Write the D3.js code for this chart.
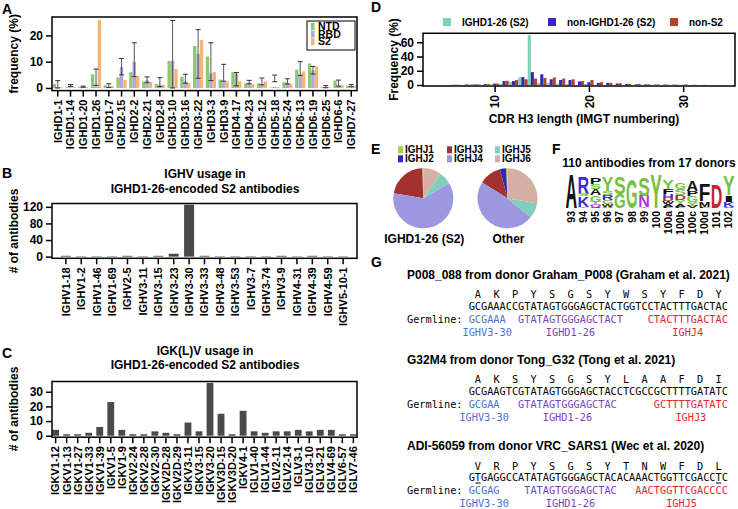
<!DOCTYPE html>
<html><head><meta charset="utf-8">
<script src="https://cdn.jsdelivr.net/npm/d3@7/dist/d3.min.js"></script>
<style>
html,body{margin:0;padding:0;background:#fff;}
svg{display:block;}
</style></head>
<body><svg id="fig" width="738" height="509"></svg>
<script>
// ---------------- DATA ----------------
// Panel A
const dGenes = ["IGHD1-1","IGHD1-14","IGHD1-20","IGHD1-26","IGHD1-7","IGHD2-15","IGHD2-2","IGHD2-21","IGHD2-8","IGHD3-10","IGHD3-16","IGHD3-22","IGHD3-3","IGHD3-9","IGHD4-17","IGHD4-23","IGHD5-12","IGHD5-18","IGHD5-24","IGHD6-13","IGHD6-19","IGHD6-25","IGHD6-6","IGHD7-27"];
const ntdFreq = [1.5,0.3,0.5,5.2,1.0,4.0,6.0,2.5,1.5,10.3,4.3,16.0,12.0,3.2,6.0,1.8,1.8,0.2,2.2,7.0,9.3,0.3,2.8,0.8];
const rbdFreq = [0.3,0.3,0.5,1.0,0.5,8.0,10.0,3.0,1.2,10.3,2.5,13.0,5.5,2.5,5.5,2.0,1.5,0.4,2.0,5.0,6.7,0.3,0.8,0.8];
const s2Freq  = [0.3,0.5,0.3,25.8,0.8,3.0,4.5,2.3,1.2,7.2,2.0,18.2,6.0,2.5,2.5,1.5,2.5,0.3,1.5,6.3,8.1,0.3,1.1,0.8];
const errLow  = [0,0.6,0.3,1.0,0.2,5.0,4.3,2.0,0.5,0,1.8,3.7,2.8,2.6,0.8,1.6,1.2,2.4,1.5,4.8,5.3,0.1,0.7,0.5];
const errHigh = [2.8,1.3,0.7,7.2,1.6,11.2,17.2,4.2,3.9,25.7,5.2,22.2,17.2,9.0,5.9,2.9,3.8,4.9,3.5,10.0,8.2,0.9,3.0,1.3];
const seriesA = ["NTD","RBD","S2"];
const yTicksA = [0,10,20];

// Panel B
const ighvGenes = ["IGHV1-18","IGHV1-2","IGHV1-46","IGHV1-69","IGHV2-5","IGHV3-11","IGHV3-15","IGHV3-23","IGHV3-30","IGHV3-33","IGHV3-48","IGHV3-53","IGHV3-7","IGHV3-74","IGHV3-9","IGHV4-31","IGHV4-39","IGHV4-59","IGHV5-10-1"];
const ighvCounts = [2,1,1,1,2,1,2,7,125,2,1,1,1,1,2,1,2,1,1];
const yTicksB = [0,40,80,120];

// Panel C
const iglvGenes = ["IGKV1-12","IGKV1-13","IGKV1-27","IGKV1-33","IGKV1-39","IGKV1-5","IGKV1-9","IGKV2-24","IGKV2-28","IGKV2-30","IGKV2D-28","IGKV2D-29","IGKV3-11","IGKV3-15","IGKV3-20","IGKV3D-15","IGKV3D-20","IGKV4-1","IGLV1-40","IGLV1-44","IGLV2-11","IGLV2-14","IGLV3-1","IGLV3-10","IGLV3-21","IGLV4-69","IGLV6-57","IGLV7-46"];
const iglvCounts = [4,1,1,2,6,23,4,1,1,3,2,1,9,3,36,15,1,17,3,2,3,3,4,3,4,4,1,1];
const yTicksC = [0,10,20,30];

// Panel D
const cdrLen   = [5,6,7,8,9,10,11,12,13,14,15,16,17,18,19,20,21,22,23,24,25,26,27,28,29,30,31,32];
const freqD126 = [0,0.8,0,1.5,0,0.8,1.5,4,11,70,3,3,2,1.5,0,1.5,0,0,0,0,0,0,0,0,0,0,0,0];
const freqNonD = [0,0.3,0.8,0.8,1.2,2,5.5,5.5,11,18,15,8,7,7,5,4,3,3,2,1.5,1,0.8,0.5,0.5,0.4,0.3,0.2,0.1];
const freqNonS2= [0.2,0.3,0.5,0.8,1.2,2,6,7,8,9,10,10.5,9,8,5.5,7,4,3,2.5,1.5,1.5,1,0.8,0.6,0.5,0.8,0.3,0.2];
const seriesD = ["IGHD1-26 (S2)","non-IGHD1-26 (S2)","non-S2"];
const xTicksD = [10,20,30];
const yTicksD = [0,20,40,60];

// Panel E
const jGenes = ["IGHJ1","IGHJ2","IGHJ3","IGHJ4","IGHJ5","IGHJ6"];
const pieS2 = [0.6,0,21.7,61.1,6.9,9.7];
const pieOther = [0.8,3.3,12,48,8.3,27.6];
const pieNames = ["IGHD1-26 (S2)","Other"];

// Panel F
const logoTitle = "110 antibodies from 17 donors";
const logoPos = ["93","94","95","96","97","98","99","100","100a","100b","100c","100d","101","102"];
const logoStacks = [
 [["A",1.0]],
 [["R",0.5],["S",0.08],["K",0.3],["T",0.04]],
 [["P",0.2],["S",0.14],["A",0.18],["G",0.18],["T",0.08],["Q",0.06],["V",0.05]],
 [["Y",0.4],["S",0.12],["R",0.14],["G",0.12],["W",0.06],["A",0.05]],
 [["S",0.48],["G",0.4]],
 [["G",0.82]],
 [["S",0.52],["N",0.32],["T",0.04]],
 [["Y",0.98]],
 [["Y",0.28],["F",0.14],["H",0.1],["D",0.1],["W",0.08],["A",0.07],["L",0.05]],
 [["G",0.2],["S",0.18],["D",0.14],["Y",0.12],["A",0.07],["F",0.05]],
 [["A",0.29],["P",0.14],["G",0.17],["Y",0.1],["V",0.08]],
 [["F",0.48],["M",0.15],["L",0.05]],
 [["D",0.68]],
 [["Y",0.56],["I",0.18],["K",0.14],["V",0.05]]
];

// Panel G
const gTitles = ["P008_088 from donor Graham_P008 (Graham et al. 2021)","G32M4 from donor Tong_G32 (Tong et al. 2021)","ADI-56059 from donor VRC_SARS1 (Wec et al. 2020)"];
const gAA = ["AKPYSGSYWSYFDY","AKSYSGSYLAAFDI","VRPYSGSYTNWFDL"];
const gNT = ["GCGAAACCGTATAGTGGGAGCTACTGGTCCTACTTTGACTAC","GCGAAGTCGTATAGTGGGAGCTACCTCGCCGCTTTTGATATC","GTGAGGCCATATAGTGGGAGCTACACAAACTGGTTCGACCTC"];
const gV = [["GCGAAA",0],["GCGAA",0],["GCGAG",0]];
const gD = [["GTATAGTGGGAGCTACT",8],["GTATAGTGGGAGCTAC",8],["TATAGTGGGAGCTAC",9]];
const gJ = [["CTACTTTGACTAC",29],["GCTTTTGATATC",30],["AACTGGTTCGACCCC",27]];
const gVname = ["IGHV3-30","IGHV3-30","IGHV3-30"];
const gDname = ["IGHD1-26","IGHD1-26","IGHD1-26"];
const gJname = ["IGHJ4","IGHJ3","IGHJ5"];
const gMut = [[],[],[1,40]];

// ---------------- STYLE ----------------
const FONT = "'Liberation Sans', Arial, Helvetica, sans-serif";
const MONO = "'DejaVu Sans Mono', monospace";
const colA = {NTD:"#8fc873", RBD:"#b5a6dd", S2:"#f3b674"};
const colD = ["#7dd3b6","#3323c8","#b2442b"];
const colJ = ["#a5d14a","#3125c4","#a3312e","#9c98e0","#7fcfbc","#d5afa3"];
const barGray = "#4a4a4a";
const logoCol = l => ("GSTYC".includes(l) ? "#76c043" : "KRH".includes(l) ? "#3c2dd2" : "DE".includes(l) ? "#c4262d" : "NQ".includes(l) ? "#b636d4" : "#111");

const svg = d3.select("#fig");
svg.append("rect").attr("width",738).attr("height",509).attr("fill","#fff");

function txt(g, s, x, y, size, opts={}) {
  const t = g.append("text").text(s).attr("x",x).attr("y",y)
    .attr("font-family", opts.mono ? MONO : FONT)
    .attr("font-weight", opts.mono ? "normal" : "bold")
    .attr("font-size", size).attr("fill", opts.fill || "#000");
  if (opts.anchor) t.attr("text-anchor", opts.anchor);
  return t;
}
function frame(g, x0, x1, y0, y1) {
  g.append("rect").attr("x",x0).attr("y",y0).attr("width",x1-x0).attr("height",y1-y0)
   .attr("fill","none").attr("stroke","#000").attr("stroke-width",1.5);
}
function yAxis(g, scale, x, ticks) {
  const ax = g.append("g").attr("transform",`translate(${x},0)`)
    .call(d3.axisLeft(scale).tickValues(ticks).tickSize(6).tickPadding(3));
  ax.select(".domain").remove();
  ax.selectAll("line").attr("stroke","#000").attr("stroke-width",1.5);
  ax.selectAll("text").attr("font-size",12).attr("font-family",FONT).attr("font-weight","bold");
}
function catAxis(g, scale, y, fs) {
  const ax = g.append("g").attr("transform",`translate(0,${y})`)
    .call(d3.axisBottom(scale).tickSize(6).tickPadding(3));
  ax.select(".domain").remove();
  ax.selectAll("line").attr("stroke","#000").attr("stroke-width",1.5);
  ax.selectAll("text").attr("transform","rotate(-90)").attr("text-anchor","end")
    .attr("x",-9).attr("y",0).attr("dy","0.35em")
    .attr("font-size",fs).attr("font-family",FONT).attr("font-weight","bold");
}
function yLabel(g, s, x, cy) {
  txt(g, s, 0, 0, 12, {anchor:"middle"}).attr("transform",`translate(${x},${cy}) rotate(-90)`);
}

// ---------------- PANEL A ----------------
const gA = svg.append("g");
const xA = d3.scaleBand().domain(dGenes).range([52,357]).paddingInner(0.2).paddingOuter(0.05);
const xA1 = d3.scaleBand().domain(seriesA).range([0,xA.bandwidth()]);
const yA = d3.scaleLinear().domain([-1,27]).range([90.6,17]);
const valsA = {NTD:ntdFreq, RBD:rbdFreq, S2:s2Freq};
seriesA.forEach(s => {
  gA.selectAll(null).data(dGenes).join("rect")
    .attr("x", d => xA(d)+xA1(s)).attr("width", xA1.bandwidth())
    .attr("y", (d,i) => yA(valsA[s][i])).attr("height", (d,i) => yA(0)-yA(valsA[s][i]))
    .attr("fill", colA[s]);
});
dGenes.forEach((d,i) => {
  const cx = xA(d)+xA.bandwidth()/2;
  const y0 = yA(Math.max(errLow[i],-1)), y1 = yA(Math.min(errHigh[i],27));
  gA.append("line").attr("x1",cx).attr("x2",cx).attr("y1",y0).attr("y2",y1).attr("stroke","#555").attr("stroke-width",1);
  [y0,y1].forEach(yy => gA.append("line").attr("x1",cx-2.5).attr("x2",cx+2.5).attr("y1",yy).attr("y2",yy).attr("stroke","#333").attr("stroke-width",1));
});
frame(gA,52,357,17,90.6);
yAxis(gA,yA,52,yTicksA);
catAxis(gA,xA,90.6,11);
yLabel(gA,"frequency (%)",17.5,53.8);
txt(gA,"A",2,14,14);
// legend
gA.append("rect").attr("x",307).attr("y",21).attr("width",48).attr("height",29).attr("fill","#fff").attr("stroke","#000").attr("stroke-width",1);
seriesA.forEach((s,i) => {
  const by = 30 + i*7.6;
  gA.append("rect").attr("x",311).attr("y",by-7).attr("width",3.5).attr("height",7).attr("fill",colA[s]);
  txt(gA,s,318,by,10.5);
});

// ---------------- PANEL B ----------------
const gB = svg.append("g");
const xB = d3.scaleBand().domain(ighvGenes).range([52,357]).paddingInner(0.35).paddingOuter(0.575);
const yB = d3.scaleLinear().domain([-4,128]).range([258.3,203.5]);
gB.selectAll(null).data(ighvGenes).join("rect")
  .attr("x", d => xB(d)).attr("width", xB.bandwidth())
  .attr("y", (d,i) => yB(ighvCounts[i])).attr("height", (d,i) => yB(0)-yB(ighvCounts[i]))
  .attr("fill", barGray);
frame(gB,52,357,203.5,258.3);
yAxis(gB,yB,52,yTicksB);
catAxis(gB,xB,258.3,11);
yLabel(gB,"# of antibodies",18,231);
txt(gB,"B",2,178,14);
txt(gB,"IGHV usage in",205,177.5,12,{anchor:"middle"});
txt(gB,"IGHD1-26-encoded S2 antibodies",205,193,12,{anchor:"middle"});

// ---------------- PANEL C ----------------
const gC = svg.append("g");
const xC = d3.scaleBand().domain(iglvGenes).range([52,357]).paddingInner(0.38).paddingOuter(0.02);
const yC = d3.scaleLinear().domain([-1,37]).range([437.2,381.5]);
gC.selectAll(null).data(iglvGenes).join("rect")
  .attr("x", d => xC(d)).attr("width", xC.bandwidth())
  .attr("y", (d,i) => yC(iglvCounts[i])).attr("height", (d,i) => yC(0)-yC(iglvCounts[i]))
  .attr("fill", barGray);
frame(gC,52,357,381.5,437.2);
yAxis(gC,yC,52,yTicksC);
catAxis(gC,xC,437.2,11);
yLabel(gC,"# of antibodies",18,409);
txt(gC,"C",2,358,14);
txt(gC,"IGK(L)V usage in",205,355,12,{anchor:"middle"});
txt(gC,"IGHD1-26-encoded S2 antibodies",205,369,12,{anchor:"middle"});

// ---------------- PANEL D ----------------
const gDp = svg.append("g");
const xD = d3.scaleLinear().domain([2.4,35.5]).range([423,735]);
const yD = d3.scaleLinear().domain([-1.4,72.6]).range([86,33.3]);
const valsD = [freqD126, freqNonD, freqNonS2];
const bwD = 3.1;
valsD.forEach((arr,si) => {
  gDp.selectAll(null).data(cdrLen).join("rect")
    .attr("x", d => xD(d) + (si-1.5)*bwD).attr("width", bwD)
    .attr("y", (d,i) => yD(arr[i])).attr("height", (d,i) => Math.max(0, yD(0)-yD(arr[i])))
    .attr("fill", colD[si]);
});
frame(gDp,423,735,33.3,86);
yAxis(gDp,yD,423,yTicksD);
{
  const ax = gDp.append("g").attr("transform","translate(0,86)")
    .call(d3.axisBottom(xD).tickValues(xTicksD).tickSize(6).tickPadding(3));
  ax.select(".domain").remove();
  ax.selectAll("line").attr("stroke","#000").attr("stroke-width",1.5);
  ax.selectAll("text").attr("transform","rotate(-90)").attr("text-anchor","end")
    .attr("x",-9).attr("y",0).attr("dy","0.35em")
    .attr("font-size",12).attr("font-family",FONT).attr("font-weight","bold");
}
txt(gDp,"CDR H3 length (IMGT numbering)",584,123,12,{anchor:"middle"});
yLabel(gDp,"Frequency (%)",398,59.5);
txt(gDp,"D",371,12,14);
const legDx = [443,548,670];
seriesD.forEach((s,i) => {
  gDp.append("rect").attr("x",legDx[i]).attr("y",18).attr("width",8).attr("height",8).attr("fill",colD[i]);
  txt(gDp,s,legDx[i]+19,26,10);
});

// ---------------- PANEL E ----------------
const gE = svg.append("g");
txt(gE,"E",371,154,14);
const legEx = [398,447,495];
jGenes.forEach((j,i) => {
  const cx = legEx[Math.floor(i/2)], by = 153.3 + (i%2)*9;
  gE.append("rect").attr("x",cx).attr("y",by-7).attr("width",5).attr("height",7).attr("fill",colJ[i]);
  txt(gE,j,cx+7,by,10);
});
const pie = d3.pie().sort(null).startAngle(0).endAngle(-2*Math.PI);
const arc = d3.arc().innerRadius(0).outerRadius(30);
const pieCx = [423.3,507.5];
[pieS2,pieOther].forEach((vals,pi) => {
  const g = gE.append("g").attr("transform",`translate(${pieCx[pi]},198.3)`);
  g.selectAll("path").data(pie(vals)).join("path").attr("d",arc).attr("fill",(d,i)=>colJ[i]);
  txt(gE,pieNames[pi],pieCx[pi]+1,243,12,{anchor:"middle"});
});

// ---------------- PANEL F ----------------
const gF = svg.append("g");
txt(gF,"F",552,154,14);
txt(gF,logoTitle,649,166.7,12,{anchor:"middle"});
const xF = d3.scaleBand().domain(logoPos).range([565,735]).padding(0.04);
const yF = d3.scaleLinear().domain([0,1]).range([208.3,173.3]);
const CAP = 0.716;
logoStacks.forEach((stack,pi) => {
  const x0 = xF(logoPos[pi]), w = xF.bandwidth();
  let top = 1;
  const total = d3.sum(stack, d => d[1]);
  let cur = total;
  stack.forEach(([L,h]) => {
    const yTop = yF(cur), yBot = yF(cur-h);
    cur -= h;
    const t = gF.append("text").text(L).attr("font-family",FONT).attr("font-weight","bold")
      .attr("font-size",100).attr("fill",logoCol(L));
    const adv = t.node().getComputedTextLength() || 60;
    const sx = w/adv, sy = (yBot-yTop)/(100*CAP);
    t.attr("transform",`translate(${x0},${yBot}) scale(${sx},${sy})`);
  });
  gF.append("text").text(logoPos[pi]).attr("font-family",FONT).attr("font-weight","bold").attr("font-size",10.5)
    .attr("text-anchor","end").attr("dy","0.35em")
    .attr("transform",`translate(${x0+w/2},211) rotate(-90)`);
});

// ---------------- PANEL G ----------------
const gG = svg.append("g");
txt(gG,"G",371,267,14);
const cw = 6.17, gx = 407, fsM = 10.25;
const blockY = [278.5,363.5,450];
function mono(s, col, y, fill) {
  return txt(gG,s,gx+col*cw,y,fsM,{mono:true,fill:fill})
    .attr("textLength",s.length*cw).attr("lengthAdjust","spacingAndGlyphs");
}
function monoMid(s, colCenter, y, fill) {
  return txt(gG,s,gx+colCenter*cw,y,fsM,{mono:true,fill:fill,anchor:"middle"});
}
const colV = "#4a6fd3", colDg = "#7a3fb8", colJg = "#e3262d";
gTitles.forEach((t,i) => {
  const T = blockY[i];
  txt(gG,t,gx,T,12);
  gAA[i].split("").forEach((a,k) => mono(a, 11+3*k, T+19.5, "#000"));
  mono(gNT[i], 10, T+31, "#000");
  gMut[i].forEach(m => gG.append("line").attr("x1",gx+(10+m)*cw+0.5).attr("x2",gx+(11+m)*cw-0.5)
    .attr("y1",T+33).attr("y2",T+33).attr("stroke","#000").attr("stroke-width",1));
  mono("Germline:", 0, T+44, "#000");
  mono(gV[i][0], 10+gV[i][1], T+44, colV);
  mono(gD[i][0], 10+gD[i][1], T+44, colDg);
  mono(gJ[i][0], 10+gJ[i][1], T+44, colJg);
  monoMid(gVname[i], 10+gV[i][1]+gV[i][0].length/2, T+57, colV);
  monoMid(gDname[i], 10+gD[i][1]+gD[i][0].length/2, T+57, colDg);
  monoMid(gJname[i], 10+gJ[i][1]+gJ[i][0].length/2, T+57, colJg);
});
</script></body></html>
